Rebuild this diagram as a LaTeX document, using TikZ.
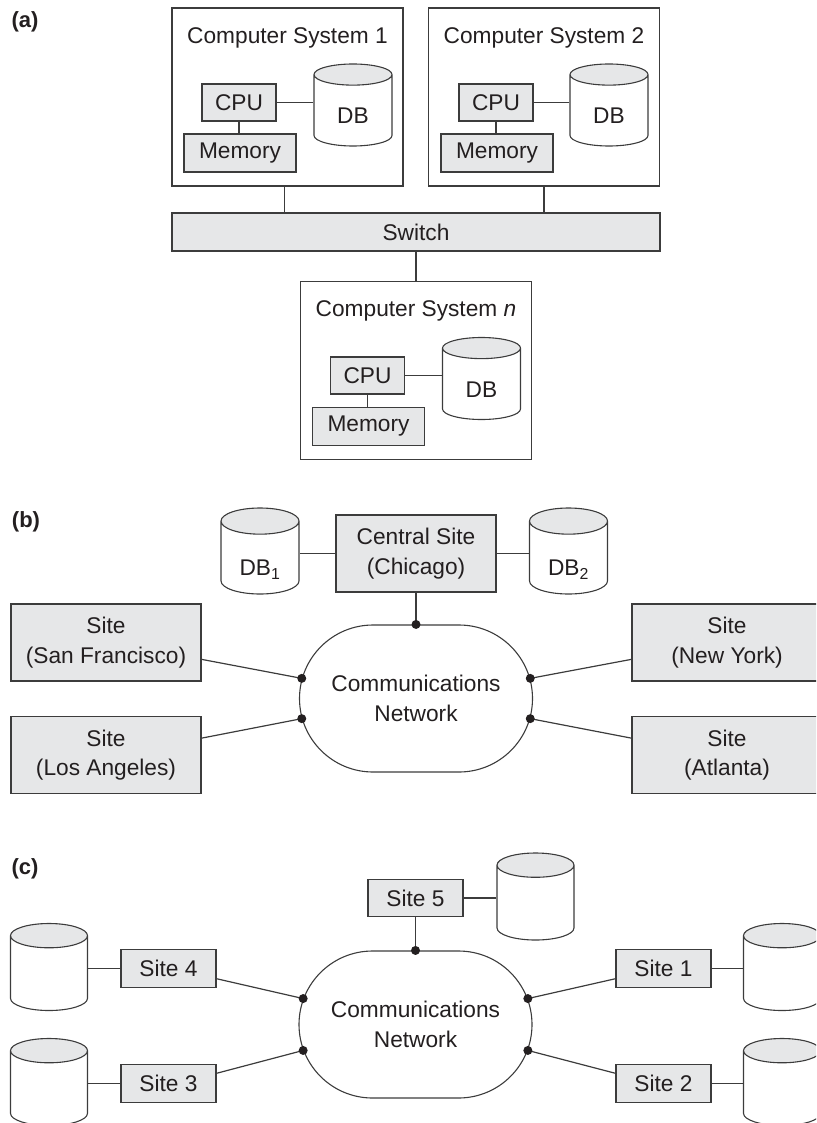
\documentclass[tikz,border=0pt]{standalone}
\usepackage{fontspec}
\setmainfont{Liberation Sans}
\usepackage{tikz}
\usetikzlibrary{positioning,shapes.geometric,shapes.misc,calc}
\definecolor{boxgray}{HTML}{E6E7E8}
\definecolor{linegray}{HTML}{3C3C3C}
\definecolor{inkblack}{HTML}{231F20}
\newcommand{\diagfont}{\fontsize{22.7pt}{29.5pt}\selectfont}
\newcommand{\panelfont}{\fontsize{22pt}{26pt}\selectfont\bfseries}

\begin{document}
\begin{tikzpicture}[
    x=1pt, y=-1pt,
    every node/.style={text=inkblack, font=\diagfont},
    box/.style={draw=linegray, fill=boxgray, line width=1.4pt, inner sep=0pt, align=center},
    cpubox/.style={box, minimum width=74pt, minimum height=37pt},
    membox/.style={box, minimum width=112pt, minimum height=38pt},
    sitebox/.style={box, minimum width=190pt, minimum height=77pt},
    smallsite/.style={box, minimum width=95pt, minimum height=37.5pt},
    frame/.style={draw=linegray, line width=1.4pt, minimum width=231pt, minimum height=178pt},
    db/.style={cylinder, shape border rotate=90, anchor=shape center, draw=linegray, line width=1.1pt,
               cylinder uses custom fill, cylinder end fill=boxgray, cylinder body fill=white,
               aspect=0.67, inner sep=0pt, minimum width=78pt, minimum height=82pt,
               text height=26pt, text depth=0pt},
    store/.style={db, minimum height=87pt, minimum width=77pt, aspect=0.77},
    net/.style={rounded rectangle, draw=linegray, line width=1.1pt, minimum width=233pt,
                minimum height=147pt, align=center, inner sep=0pt},
    link/.style={draw=linegray, line width=1.2pt},
    panel/.style={font=\panelfont}
]
\useasboundingbox (0,0) rectangle (816,1123);
\clip (0,0) rectangle (816,1123);

% (a) shared nothing: three computer systems on a switch
\node[panel] (lblA) at (25,22) {(a)};
\node[frame] (sys1) at (287.5,97) {};
\node (title1) at (287.5,38) {Computer System 1};
\node[cpubox] (cpu1) at (239,102.5) {CPU};
\node[membox] (mem1) at (240,153) {Memory};
\node[db] (db1) at (353,105) {DB};

\node[frame] (sys2) at (544,97) {};
\node (title2) at (544,38) {Computer System 2};
\node[cpubox] (cpu2) at (496,102.5) {CPU};
\node[membox] (mem2) at (497,153) {Memory};
\node[db] (db2) at (609,105) {DB};

\node[box, minimum width=488pt, minimum height=38pt] (switch) at (416,232) {Switch};

\node[frame] (sysn) at (416,370.5) {};
\node (titlen) at (416,311) {Computer System \textit{n}};
\node[cpubox] (cpun) at (367.5,375.5) {CPU};
\node[membox] (memn) at (368.5,426.5) {Memory};
\node[db] (dbn) at (481.5,378.5) {DB};

\draw[link] (cpu1.east) -- (cpu1.east -| db1.west);
\draw[link] (cpu1.south) -- (cpu1.south |- mem1.north);
\draw[link] (cpu2.east) -- (cpu2.east -| db2.west);
\draw[link] (cpu2.south) -- (cpu2.south |- mem2.north);
\draw[link] (cpun.east) -- (cpun.east -| dbn.west);
\draw[link] (cpun.south) -- (cpun.south |- memn.north);
\draw[link] ([xshift=-3pt]sys1.south) -- ([xshift=-3pt]sys1.south |- switch.north);
\draw[link] (sys2.south) -- (sys2.south |- switch.north);
\draw[link] (switch.south) -- (sysn.north);

% (b) central site with remote sites
\node[panel] (lblB) at (26,522) {(b)};
\node[box, minimum width=160pt, minimum height=77pt] (central) at (416,553.5) {Central Site\\(Chicago)};
\node[db, minimum height=86pt, aspect=0.64, text height=36pt] (dbA) at (260,551) {DB\textsubscript{1}};
\node[db, minimum height=86pt, aspect=0.64, text height=36pt] (dbB) at (568.5,551) {DB\textsubscript{2}};
\node[net] (net1) at (416,698.5) {Communications\\Network};
\node[sitebox] (sanfran) at (106,642.5) {Site\\(San Francisco)};
\node[sitebox] (losang) at (106,755) {Site\\(Los Angeles)};
\node[sitebox] (newyork) at (727,642.5) {Site\\(New York)};
\node[sitebox] (atlanta) at (727,755) {Site\\(Atlanta)};

\draw[link] (central.west) -- (central.west -| dbA.east);
\draw[link] (central.east) -- (central.east -| dbB.west);
\draw[link] (central.south) -- (net1.north);
\draw[link] (sanfran.-10) -- (net1.170);
\draw[link] (losang.10) -- (net1.190);
\draw[link] (newyork.190) -- (net1.10);
\draw[link] (atlanta.170) -- (net1.-10);
\fill[inkblack] (net1.north) circle (4.5pt) (net1.170) circle (4.5pt) (net1.190) circle (4.5pt)
    (net1.10) circle (4.5pt) (net1.-10) circle (4.5pt);

% (c) fully distributed sites
\node[panel] (lblC) at (25,869) {(c)};
\node[smallsite] (site5) at (415.5,898) {Site 5};
\node[store] (store5) at (535.5,896.5) {\phantom{DB}};
\node[net] (net2) at (415.5,1024.5) {Communications\\Network};
\node[smallsite] (site4) at (168.5,968.5) {Site 4};
\node[smallsite] (site3) at (168.5,1083.5) {Site 3};
\node[smallsite] (site1) at (663.5,968.5) {Site 1};
\node[smallsite] (site2) at (663.5,1083.5) {Site 2};
\node[store] (store4) at (49,967) {\phantom{DB}};
\node[store] (store3) at (49,1082) {\phantom{DB}};
\node[store] (store1) at (782,967) {\phantom{DB}};
\node[store] (store2) at (782,1082) {\phantom{DB}};

\draw[link] (site5.east) -- (site5.east -| store5.west);
\draw[link] (site5.south) -- (site5.south |- net2.north);
\draw[link] (site4.west) -- (site4.west -| store4.east);
\draw[link] (site3.west) -- (site3.west -| store3.east);
\draw[link] (site1.east) -- (site1.east -| store1.west);
\draw[link] (site2.east) -- (site2.east -| store2.west);
\draw[link] (site4.-12) -- (net2.167);
\draw[link] (site3.12) -- (net2.193);
\draw[link] (site1.192) -- (net2.13);
\draw[link] (site2.168) -- (net2.-13);
\fill[inkblack] (net2.north) circle (4.5pt) (net2.167) circle (4.5pt) (net2.193) circle (4.5pt)
    (net2.13) circle (4.5pt) (net2.-13) circle (4.5pt);
\end{tikzpicture}
\end{document}
